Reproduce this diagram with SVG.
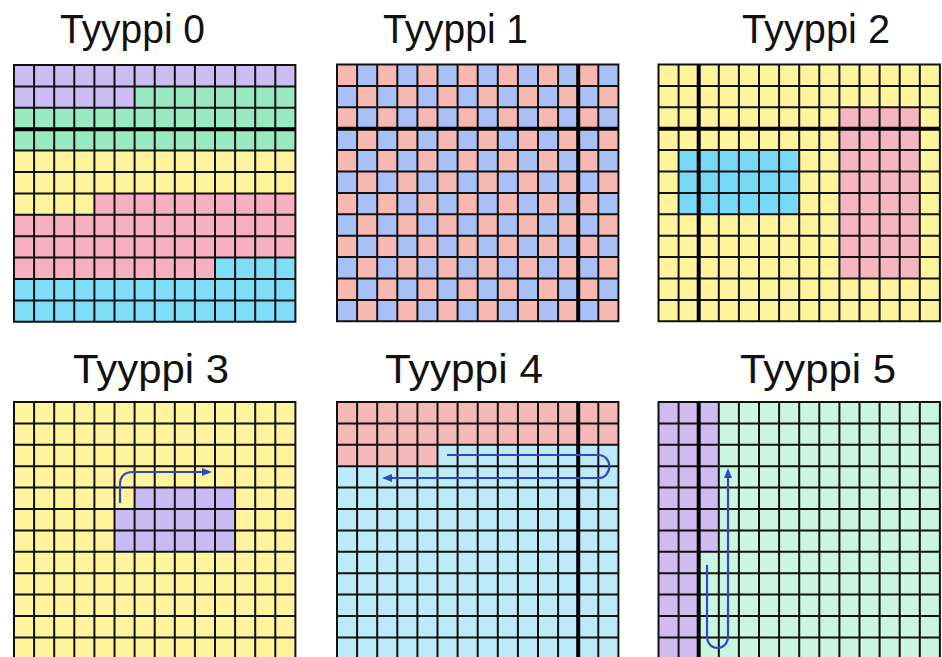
<svg xmlns="http://www.w3.org/2000/svg" xmlns:xlink="http://www.w3.org/1999/xlink" width="942" height="657" viewBox="0 0 942 657">
<style>
.title{font-family:"Liberation Sans",Arial,sans-serif;font-size:40px;fill:#111;}
.grid{fill:none;stroke:#111;stroke-width:2;stroke-linecap:square;}
.thick{fill:none;stroke:#000;stroke-width:4;}
.arrow{fill:none;stroke:#2D48C8;stroke-width:2.2;marker-end:url(#ah);}
</style>
<defs>
<path id="gridlines" class="grid" d="M0,0V256.8M20.1,0V256.8M40.2,0V256.8M60.3,0V256.8M80.4,0V256.8M100.5,0V256.8M120.6,0V256.8M140.7,0V256.8M160.8,0V256.8M180.9,0V256.8M201,0V256.8M221.1,0V256.8M241.2,0V256.8M261.3,0V256.8M281.4,0V256.8M0,0H281.4M0,21.4H281.4M0,42.8H281.4M0,64.2H281.4M0,85.6H281.4M0,107H281.4M0,128.4H281.4M0,149.8H281.4M0,171.2H281.4M0,192.6H281.4M0,214H281.4M0,235.4H281.4M0,256.8H281.4"/>
<pattern id="checker" patternUnits="userSpaceOnUse" x="0" y="0" width="40.2" height="42.8">
<rect x="0" y="0" width="40.2" height="42.8" fill="#A9C0F6"/>
<rect x="0" y="0" width="20.1" height="21.4" fill="#F8B8B2"/>
<rect x="20.1" y="21.4" width="20.1" height="21.4" fill="#F8B8B2"/>
</pattern>
<marker id="ah" markerUnits="userSpaceOnUse" markerWidth="10" markerHeight="8" refX="2" refY="4" orient="auto">
<path d="M0,0L10,4L0,8z" fill="#2D48C8"/>
</marker>
</defs>
<rect width="942" height="657" fill="#fff"/>

<g id="tyyppi0">
<text class="title" x="60" y="43" textLength="145" lengthAdjust="spacingAndGlyphs">Tyyppi 0</text>
<g transform="translate(14,65)">
<rect x="0" y="0" width="281.4" height="21.4" fill="#CBBDF3"/>
<rect x="0" y="21.4" width="120.6" height="21.4" fill="#CBBDF3"/>
<rect x="120.6" y="21.4" width="160.8" height="21.4" fill="#98E8C0"/>
<rect x="0" y="42.8" width="281.4" height="42.8" fill="#98E8C0"/>
<rect x="0" y="85.6" width="281.4" height="42.8" fill="#FFF39B"/>
<rect x="0" y="128.4" width="80.4" height="21.4" fill="#FFF39B"/>
<rect x="80.4" y="128.4" width="201" height="21.4" fill="#F8AFC2"/>
<rect x="0" y="149.8" width="281.4" height="42.8" fill="#F8AFC2"/>
<rect x="0" y="192.6" width="201" height="21.4" fill="#F8AFC2"/>
<rect x="201" y="192.6" width="80.4" height="21.4" fill="#7FDDF7"/>
<rect x="0" y="214" width="281.4" height="42.8" fill="#7FDDF7"/>
<use xlink:href="#gridlines"/>
<path class="thick" d="M0,64.2H281.4"/>
</g>
</g>

<g id="tyyppi1">
<text class="title" x="383" y="43" textLength="145" lengthAdjust="spacingAndGlyphs">Tyyppi 1</text>
<g transform="translate(337,64.5)">
<rect x="0" y="0" width="281.4" height="256.8" fill="url(#checker)"/>
<use xlink:href="#gridlines"/>
<path class="thick" d="M0,64.2H281.4M241.2,0V256.8"/>
</g>
</g>

<g id="tyyppi2">
<text class="title" x="742" y="43" textLength="148" lengthAdjust="spacingAndGlyphs">Tyyppi 2</text>
<g transform="translate(658.5,64.5)">
<rect x="0" y="0" width="281.4" height="256.8" fill="#FFF39B"/>
<rect x="20.1" y="85.6" width="120.6" height="64.2" fill="#78D9F6"/>
<rect x="180.9" y="42.8" width="80.4" height="171.2" fill="#F6B6C0"/>
<use xlink:href="#gridlines"/>
<path class="thick" d="M0,64.2H281.4M40.2,0V256.8"/>
</g>
</g>

<g id="tyyppi3">
<text class="title" x="73" y="383" textLength="156" lengthAdjust="spacingAndGlyphs">Tyyppi 3</text>
<g transform="translate(14,402)">
<rect x="0" y="0" width="281.4" height="256.8" fill="#FFF39B"/>
<rect x="120.6" y="85.6" width="100.5" height="21.4" fill="#C8BAF2"/>
<rect x="100.5" y="107" width="120.6" height="42.8" fill="#C8BAF2"/>
<use xlink:href="#gridlines"/>
</g>
</g>

<g id="tyyppi4">
<text class="title" x="385" y="383" textLength="158" lengthAdjust="spacingAndGlyphs">Tyyppi 4</text>
<g transform="translate(337,402)">
<rect x="0" y="0" width="281.4" height="256.8" fill="#BDEAF8"/>
<rect x="0" y="0" width="281.4" height="42.8" fill="#F5B8B8"/>
<rect x="0" y="42.8" width="100.5" height="21.4" fill="#F5B8B8"/>
<use xlink:href="#gridlines"/>
<path class="thick" d="M241.2,0V256.8"/>
</g>
</g>

<g id="tyyppi5">
<text class="title" x="740" y="383" textLength="156" lengthAdjust="spacingAndGlyphs">Tyyppi 5</text>
<g transform="translate(658.5,402)">
<rect x="0" y="0" width="281.4" height="256.8" fill="#C9F5E2"/>
<rect x="0" y="0" width="60.3" height="149.8" fill="#D0BAF0"/>
<rect x="0" y="149.8" width="40.2" height="107" fill="#D0BAF0"/>
<use xlink:href="#gridlines"/>
<path class="thick" d="M40.2,0V256.8"/>
</g>
</g>

<g id="connectors">
<path class="arrow" d="M120,503V485Q120,472 133,472H204"/>
<path class="arrow" d="M447,455H598C613,455 613,478 598,478H390"/>
<path class="arrow" d="M707,565V636C707,652 728,652 728,636V476"/>
</g>
</svg>
